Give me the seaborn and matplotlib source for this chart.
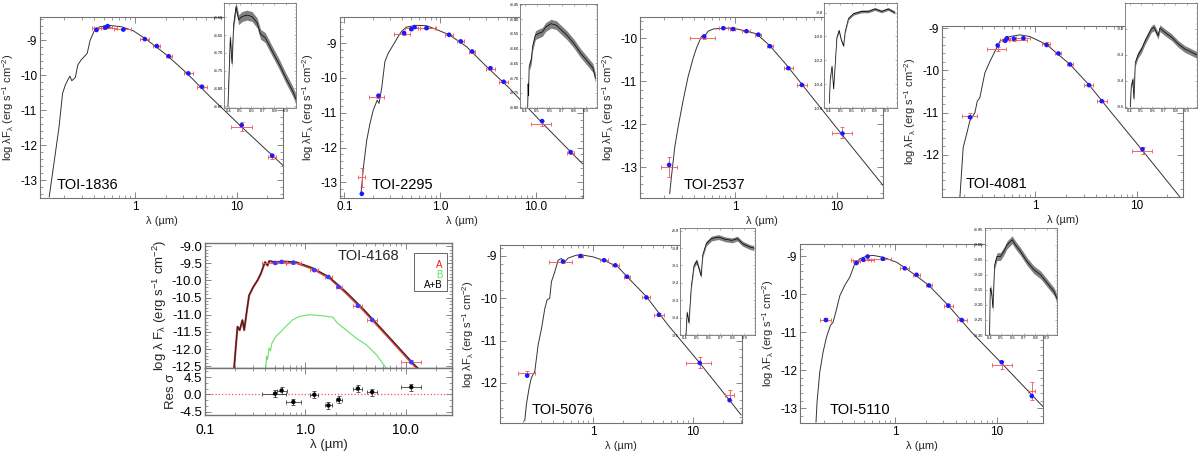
import numpy as np
import matplotlib
matplotlib.use("Agg")
import matplotlib.pyplot as plt
import seaborn as sns
from matplotlib.ticker import FixedLocator, FuncFormatter, NullFormatter, LogLocator, AutoMinorLocator
from matplotlib.patches import Rectangle

# ======================= DATA =======================
# ---- TOI-1836 ----
T1836_MOD_LAM = [0.144, 0.162, 0.18, 0.195, 0.207, 0.219, 0.23, 0.24, 0.26, 0.275, 0.296, 0.34, 0.364, 0.40, 0.45, 0.565, 0.74, 0.96, 1.3, 2.06, 3.25, 5.5, 11.0, 29.5]
T1836_MOD_F = [-13.48, -12.43, -11.48, -10.52, -10.29, -10.14, -10.03, -10.16, -10.07, -9.71, -9.57, -9.38, -9.0, -8.73, -8.62, -8.58, -8.62, -8.73, -8.98, -9.43, -9.95, -10.62, -11.46, -12.62]
T1836_LAM = [0.42, 0.51, 0.54, 0.77, 1.25, 1.64, 2.15, 3.35, 4.55, 11.2, 22.3]
T1836_OBS = [-8.66, -8.65, -8.63, -8.68, -8.97, -9.17, -9.46, -9.95, -10.35, -11.47, -12.33]
T1836_FIT = [-8.71, -8.64, -8.60, -8.70, -8.97, -9.17, -9.46, -9.95, -10.33, -11.43, -12.30]
T1836_XLO = [0.38, 0.40, 0.49, 0.63, 1.13, 1.52, 2.0, 3.05, 4.1, 8.8, 20.5]
T1836_XHI = [0.46, 0.66, 0.59, 0.92, 1.37, 1.76, 2.3, 3.7, 5.1, 14.2, 24.3]
T1836_YERR = [0.03, 0.02, 0.02, 0.02, 0.02, 0.02, 0.02, 0.02, 0.03, 0.12, 0.06]
T1836_INS_LAM = [0.394, 0.415, 0.43, 0.444, 0.465, 0.488, 0.518, 0.56, 0.606, 0.65, 0.68, 0.72, 0.78, 0.84, 0.90, 0.96, 0.99]
T1836_INS_F = [-8.853, -8.657, -8.73, -8.62, -8.57, -8.607, -8.598, -8.594, -8.598, -8.616, -8.648, -8.657, -8.694, -8.73, -8.77, -8.807, -8.83]
T1836_INS_SPREAD = 0.014

# ---- TOI-2295 ----
T2295_MOD_LAM = [0.149, 0.158, 0.171, 0.185, 0.2, 0.22, 0.23, 0.245, 0.265, 0.287, 0.324, 0.365, 0.396, 0.446, 0.566, 0.72, 0.916, 1.24, 1.88, 3.04, 5.3, 11.4, 30.7]
T2295_MOD_F = [-13.34, -12.57, -11.8, -11.31, -10.93, -10.64, -10.73, -10.3, -9.53, -9.29, -9.05, -8.81, -8.66, -8.54, -8.49, -8.50, -8.61, -8.76, -9.1, -9.67, -10.30, -11.27, -12.47]
T2295_LAM = [0.152, 0.227, 0.42, 0.50, 0.54, 0.72, 1.24, 1.64, 2.16, 3.35, 4.6, 11.6, 23.0]
T2295_OBS = [-12.86, -10.54, -8.74, -8.58, -8.56, -8.57, -8.76, -8.95, -9.25, -9.73, -10.13, -11.31, -12.15]
T2295_FIT = [-13.33, -10.51, -8.71, -8.60, -8.54, -8.57, -8.76, -8.95, -9.24, -9.72, -10.11, -11.24, -12.13]
T2295_XLO = [0.14, 0.18, 0.33, 0.43, 0.50, 0.62, 1.12, 1.5, 2.0, 3.0, 4.1, 8.9, 21.0]
T2295_XHI = [0.165, 0.26, 0.49, 0.88, 0.58, 0.9, 1.36, 1.78, 2.32, 3.7, 5.1, 14.5, 25.0]
T2295_YERR = [0.27, 0.04, 0.04, 0.03, 0.02, 0.02, 0.02, 0.02, 0.02, 0.03, 0.03, 0.08, 0.05]
T2295_INS_LAM = [0.423, 0.426, 0.429, 0.435, 0.451, 0.463, 0.486, 0.514, 0.543, 0.571, 0.614, 0.657, 0.70, 0.743, 0.80, 0.857, 0.914, 0.957, 0.977]
T2295_INS_F = [-8.80, -8.72, -8.76, -8.66, -8.64, -8.593, -8.554, -8.548, -8.543, -8.526, -8.515, -8.52, -8.537, -8.554, -8.582, -8.616, -8.644, -8.666, -8.70]
T2295_INS_SPREAD = 0.015

# ---- TOI-2537 ----
T2537_MOD_LAM = [0.229, 0.238, 0.257, 0.277, 0.311, 0.347, 0.389, 0.42, 0.47, 0.507, 0.546, 0.612, 0.768, 0.963, 1.3, 1.63, 1.9, 2.21, 3.2, 5.5, 11.4, 28.6]
T2537_MOD_F = [-13.62, -13.23, -12.53, -12.07, -11.44, -10.9, -10.47, -10.23, -9.96, -9.95, -9.84, -9.79, -9.77, -9.77, -9.84, -9.9, -10.04, -10.18, -10.62, -11.32, -12.26, -13.43]
T2537_LAM = [0.226, 0.50, 0.77, 0.96, 1.30, 1.70, 2.21, 3.35, 4.55, 11.4]
T2537_OBS = [-13.0, -10.0, -9.77, -9.79, -9.83, -9.92, -10.18, -10.69, -11.09, -12.20]
T2537_FIT = [-12.95, -9.96, -9.77, -9.79, -9.84, -9.92, -10.19, -10.70, -11.09, -12.22]
T2537_XLO = [0.19, 0.36, 0.70, 0.90, 1.17, 1.58, 2.05, 3.05, 4.1, 8.9]
T2537_XHI = [0.27, 0.64, 0.85, 1.0, 1.42, 1.82, 2.37, 3.7, 5.1, 14.0]
T2537_YERR = [0.23, 0.03, 0.02, 0.02, 0.02, 0.02, 0.02, 0.02, 0.03, 0.13]
T2537_INS_LAM = [0.406, 0.414, 0.429, 0.443, 0.457, 0.471, 0.49, 0.509, 0.529, 0.543, 0.571, 0.614, 0.686, 0.743, 0.80, 0.857, 0.914, 0.971]
T2537_INS_F = [-10.56, -10.36, -10.25, -10.44, -10.23, -10.01, -9.95, -10.03, -10.08, -9.96, -9.85, -9.81, -9.79, -9.79, -9.77, -9.79, -9.77, -9.80]
T2537_INS_SPREAD = 0.012

# ---- TOI-4081 ----
T4081_MOD_LAM = [0.183, 0.197, 0.213, 0.229, 0.257, 0.271, 0.287, 0.322, 0.361, 0.404, 0.453, 0.567, 0.711, 0.893, 1.3, 2.21, 3.47, 5.46, 11.4, 26.6]
T4081_MOD_F = [-13.0, -11.83, -11.51, -11.2, -11.0, -10.73, -10.65, -10.06, -9.79, -9.55, -9.31, -9.20, -9.16, -9.20, -9.39, -9.86, -10.37, -10.96, -11.9, -13.0]
T4081_LAM = [0.23, 0.43, 0.51, 0.53, 0.62, 0.77, 1.30, 1.70, 2.21, 3.39, 4.53, 11.4]
T4081_OBS = [-11.07, -9.49, -9.29, -9.26, -9.28, -9.24, -9.37, -9.60, -9.86, -10.35, -10.73, -11.90]
T4081_FIT = [-11.11, -9.41, -9.30, -9.24, -9.25, -9.24, -9.40, -9.60, -9.86, -10.35, -10.73, -11.87]
T4081_XLO = [0.19, 0.34, 0.47, 0.50, 0.45, 0.65, 1.17, 1.58, 2.05, 3.05, 4.1, 8.9]
T4081_XHI = [0.27, 0.52, 0.55, 0.57, 0.83, 0.90, 1.42, 1.82, 2.37, 3.7, 5.1, 14.0]
T4081_YERR = [0.05, 0.05, 0.02, 0.02, 0.02, 0.02, 0.03, 0.02, 0.02, 0.03, 0.03, 0.09]
T4081_INS_LAM = [0.406, 0.415, 0.429, 0.438, 0.45, 0.474, 0.503, 0.532, 0.56, 0.591, 0.615, 0.635, 0.65, 0.665, 0.709, 0.768, 0.826, 0.885, 0.944, 0.988]
T4081_INS_F = [-9.50, -9.42, -9.395, -9.47, -9.33, -9.30, -9.28, -9.25, -9.226, -9.20, -9.194, -9.213, -9.226, -9.197, -9.213, -9.232, -9.258, -9.278, -9.29, -9.30]
T4081_INS_SPREAD = 0.013

# ---- TOI-4168 (A, B, A+B, residuals) ----
T4168_AB_LAM = [0.195, 0.203, 0.211, 0.222, 0.236, 0.246, 0.259, 0.275, 0.302, 0.334, 0.36, 0.38, 0.397, 0.42, 0.436, 0.51, 0.617, 0.81, 1.18, 1.74, 2.55, 3.74, 5.5, 8.07, 11.8, 13.6]
T4168_AB_F = [-12.55, -11.92, -11.34, -11.44, -11.15, -11.44, -10.96, -10.43, -10.19, -9.99, -9.80, -9.61, -9.46, -9.56, -9.43, -9.46, -9.44, -9.46, -9.63, -9.90, -10.33, -10.81, -11.34, -11.87, -12.40, -12.58]
T4168_A_F = [-12.56, -11.93, -11.35, -11.45, -11.16, -11.45, -10.97, -10.44, -10.20, -10.00, -9.81, -9.62, -9.47, -9.57, -9.44, -9.48, -9.46, -9.49, -9.66, -9.93, -10.37, -10.85, -11.38, -11.91, -12.44, -12.62]
T4168_B_LAM = [0.404, 0.41, 0.42, 0.436, 0.45, 0.464, 0.51, 0.571, 0.64, 0.747, 0.87, 1.1, 1.49, 1.88, 2.1, 2.55, 3.21, 4.04, 5.1, 6.4]
T4168_B_F = [-12.55, -12.21, -12.3, -11.97, -12.05, -11.83, -11.63, -11.49, -11.34, -11.15, -11.05, -11.0, -11.03, -11.07, -11.25, -11.44, -11.68, -11.87, -12.16, -12.55]
T4168_LAM = [0.50, 0.58, 0.76, 1.23, 1.70, 2.15, 3.34, 4.64, 11.4]
T4168_OBS = [-9.49, -9.46, -9.48, -9.71, -9.90, -10.19, -10.73, -11.14, -12.37]
T4168_FIT = [-9.49, -9.46, -9.48, -9.70, -9.90, -10.19, -10.74, -11.15, -12.38]
T4168_XLO = [0.37, 0.52, 0.64, 1.12, 1.56, 2.0, 3.0, 4.15, 9.05]
T4168_XHI = [0.64, 0.65, 0.90, 1.35, 1.83, 2.3, 3.7, 5.15, 14.3]
T4168_YERR = [0.03, 0.03, 0.03, 0.02, 0.02, 0.02, 0.03, 0.03, 0.04]
T4168_RES = [0.2, 1.0, -2.0, -0.1, -2.9, -1.4, 1.5, 0.6, 1.9]
T4168_RES_ERR = [0.9, 0.9, 0.9, 0.9, 0.9, 0.9, 0.9, 0.9, 0.9]

# ---- TOI-5076 ----
T5076_MOD_LAM = [0.207, 0.215, 0.229, 0.241, 0.261, 0.282, 0.305, 0.329, 0.346, 0.368, 0.383, 0.413, 0.447, 0.482, 0.52, 0.562, 0.681, 0.794, 1.0, 1.36, 1.78, 2.19, 3.42, 5.62, 11.7, 30.4]
T5076_MOD_F = [-12.9, -12.51, -12.12, -11.88, -11.73, -11.1, -10.71, -10.24, -10.04, -10.0, -9.61, -9.38, -9.1, -9.06, -9.14, -9.05, -8.98, -8.98, -9.02, -9.13, -9.26, -9.49, -9.96, -10.63, -11.53, -12.76]
T5076_LAM = [0.219, 0.50, 0.75, 1.29, 1.67, 2.19, 3.42, 4.57, 11.7, 23.3]
T5076_OBS = [-11.76, -9.14, -9.0, -9.10, -9.22, -9.49, -9.98, -10.39, -11.53, -12.29]
T5076_FIT = [-11.83, -9.13, -9.0, -9.10, -9.22, -9.49, -9.98, -10.39, -11.53, -12.41]
T5076_XLO = [0.178, 0.36, 0.70, 1.17, 1.55, 2.03, 3.1, 4.1, 8.6, 21.0]
T5076_XHI = [0.262, 0.62, 0.80, 1.41, 1.80, 2.35, 3.75, 5.1, 15.1, 25.5]
T5076_YERR = [0.03, 0.02, 0.02, 0.02, 0.02, 0.02, 0.02, 0.03, 0.13, 0.12]
T5076_INS_LAM = [0.41, 0.42, 0.435, 0.455, 0.478, 0.50, 0.52, 0.537, 0.551, 0.58, 0.624, 0.682, 0.74, 0.798, 0.842, 0.886, 0.944, 0.98]
T5076_INS_F = [-9.5, -9.37, -9.43, -9.22, -9.10, -9.075, -9.12, -9.16, -9.04, -8.975, -8.946, -8.937, -8.95, -8.956, -8.946, -8.975, -8.994, -9.0]
T5076_INS_SPREAD = 0.014

# ---- TOI-5110 ----
T5110_MOD_LAM = [0.168, 0.172, 0.183, 0.197, 0.213, 0.233, 0.247, 0.263, 0.288, 0.322, 0.361, 0.404, 0.453, 0.526, 0.612, 0.768, 1.04, 1.52, 2.16, 3.35, 5.66, 11.2, 28.5]
T5110_MOD_F = [-13.37, -12.84, -12.05, -11.53, -11.13, -10.82, -10.74, -10.47, -10.04, -9.77, -9.55, -9.2, -9.07, -9.0, -8.98, -9.03, -9.16, -9.46, -9.77, -10.30, -11.0, -11.82, -12.96]
T5110_LAM = [0.21, 0.42, 0.49, 0.54, 0.76, 1.25, 1.63, 2.16, 3.35, 4.53, 11.2, 22.1]
T5110_OBS = [-10.67, -9.14, -9.11, -9.09, -9.08, -9.32, -9.49, -9.77, -10.30, -10.68, -11.86, -12.54]
T5110_FIT = [-10.68, -9.18, -9.09, -9.01, -9.07, -9.32, -9.49, -9.77, -10.30, -10.68, -11.79, -12.68]
T5110_XLO = [0.184, 0.39, 0.37, 0.50, 0.55, 1.13, 1.5, 2.0, 3.05, 4.1, 8.9, 20.5]
T5110_XHI = [0.236, 0.45, 0.63, 0.58, 0.92, 1.37, 1.76, 2.32, 3.7, 5.1, 14.2, 23.8]
T5110_YERR = [0.03, 0.02, 0.02, 0.02, 0.02, 0.02, 0.02, 0.02, 0.03, 0.03, 0.10, 0.24]
T5110_INS_LAM = [0.40, 0.406, 0.418, 0.429, 0.444, 0.465, 0.494, 0.524, 0.553, 0.582, 0.597, 0.626, 0.67, 0.729, 0.788, 0.847, 0.906, 0.965, 0.988]
T5110_INS_F = [-9.30, -9.144, -9.16, -9.21, -9.067, -9.039, -9.039, -9.022, -9.0, -8.989, -8.983, -9.0, -9.022, -9.056, -9.083, -9.10, -9.128, -9.156, -9.178]
T5110_INS_SPREAD = 0.013

# ======================= STYLE =======================
sns.set_theme(style="ticks")
plt.rcParams["font.family"] = ["Liberation Sans", "DejaVu Sans"]
plt.rcParams["mathtext.fontset"] = "custom"
plt.rcParams["mathtext.rm"] = "Liberation Sans"
plt.rcParams["mathtext.it"] = "Liberation Sans:italic"
plt.rcParams["mathtext.bf"] = "Liberation Sans:bold"

W, H = 1200, 455
fig = plt.figure(figsize=(12, 4.55), dpi=100)
fig.patch.set_facecolor("white")

FRAME = "0.45"
YLAB = r"log λF$_{\mathregular{λ}}$ (erg s$^{\mathregular{-1}}$ cm$^{\mathregular{-2}}$)"
XLAB = "λ (µm)"


def px_axes(x0, x1, y0, y1, **kw):
    return fig.add_axes([x0 / W, 1 - y1 / H, (x1 - x0) / W, (y1 - y0) / H], **kw)


def frame(ax, fs, lw=0.8):
    for s in ax.spines.values():
        s.set_color(FRAME)
        s.set_linewidth(lw)
    ax.tick_params(which="both", direction="in", top=True, right=True,
                   color=FRAME, labelcolor="black", labelsize=fs, pad=2)
    ax.tick_params(which="major", length=4, width=0.6)
    ax.tick_params(which="minor", length=2, width=0.5)


def main_panel(box, xlim, ylim, yticks, xticks, xtick_lbls, mlam, mf, lam, obs, fit, xlo, xhi, yerr,
               name, name_pos):
    ax = px_axes(*box)
    ax.set_xscale("log")
    sns.lineplot(x=mlam, y=mf, ax=ax, color="0.2", lw=0.7, estimator=None, sort=False, zorder=2)
    lam_a = np.array(lam)
    xerr = [lam_a - np.array(xlo), np.array(xhi) - lam_a]
    ax.errorbar(lam, obs, xerr=xerr, yerr=yerr, fmt="none", ecolor="#f05a5a", elinewidth=0.7,
                capsize=1.5, capthick=0.7, alpha=0.9, zorder=3)
    sns.scatterplot(x=lam, y=fit, ax=ax, color="#1a1aff", s=11, edgecolor="none", zorder=4)
    ax.set_xlim(*xlim)
    ax.set_ylim(*ylim)
    frame(ax, 8.5)
    ax.xaxis.set_major_locator(FixedLocator(xticks))
    ax.xaxis.set_major_formatter(FuncFormatter(lambda v, p: xtick_lbls[xticks.index(v)] if v in xticks else ""))
    ax.xaxis.set_minor_locator(LogLocator(base=10, subs=np.arange(2, 10)))
    ax.xaxis.set_minor_formatter(NullFormatter())
    ax.yaxis.set_major_locator(FixedLocator(yticks))
    ax.yaxis.set_major_formatter(FuncFormatter(lambda v, p: "%d" % round(v)))
    ax.yaxis.set_minor_locator(AutoMinorLocator(5))
    ax.set_xlabel(XLAB, fontsize=8, labelpad=2)
    ax.set_ylabel(YLAB, fontsize=8, labelpad=3)
    ax.text(name_pos[0], name_pos[1], name, transform=ax.transAxes, fontsize=10.5,
            ha="left", va="bottom", color="black")
    return ax


def inset(box, lam, f, spread, ylim, yticks, fmt):
    ax = px_axes(*box)
    ax.set_facecolor("white")
    f_a = np.array(f)
    ax.fill_between(lam, f_a - spread, f_a + spread, color="0.5", lw=0, zorder=1)
    sns.lineplot(x=lam, y=f, ax=ax, color="black", lw=0.5, estimator=None, sort=False, zorder=2)
    ax.set_xlim(0.36, 0.99)
    ax.set_ylim(*ylim)
    for s in ax.spines.values():
        s.set_color(FRAME)
        s.set_linewidth(0.6)
    ax.tick_params(which="both", direction="in", top=True, right=True, color=FRAME,
                   labelcolor="black", labelsize=3, pad=1)
    ax.tick_params(which="major", length=1.5, width=0.4)
    ax.tick_params(which="minor", length=0.8, width=0.3)
    ax.xaxis.set_major_locator(FixedLocator([0.4, 0.5, 0.6, 0.7, 0.8, 0.9]))
    ax.xaxis.set_major_formatter(FuncFormatter(lambda v, p: "%.1f" % v))
    ax.xaxis.set_minor_locator(AutoMinorLocator(5))
    ax.yaxis.set_major_locator(FixedLocator(yticks))
    ax.yaxis.set_major_formatter(FuncFormatter(lambda v, p: fmt % v))
    ax.yaxis.set_minor_locator(AutoMinorLocator(5))
    ax.set_xlabel("")
    ax.set_ylabel("")
    return ax


# ---------------- top row ----------------
main_panel((40, 283, 17, 198), (0.117, 28.5), (-13.51, -8.34), [-9, -10, -11, -12, -13],
           [1, 10], ["1", "10"], T1836_MOD_LAM, T1836_MOD_F, T1836_LAM, T1836_OBS, T1836_FIT,
           T1836_XLO, T1836_XHI, T1836_YERR, "TOI-1836", (0.07, 0.035))
inset((224, 296, 3, 108), T1836_INS_LAM, T1836_INS_F, T1836_INS_SPREAD, (-8.855, -8.56),
      [-8.85, -8.80, -8.75, -8.70, -8.65, -8.60], "%.2f")

main_panel((340, 583, 17, 198), (0.09, 31), (-13.45, -8.25), [-9, -10, -11, -12, -13],
           [0.1, 1, 10], ["0.1", "1.0", "10.0"], T2295_MOD_LAM, T2295_MOD_F, T2295_LAM, T2295_OBS,
           T2295_FIT, T2295_XLO, T2295_XHI, T2295_YERR, "TOI-2295", (0.13, 0.035))
inset((520, 597, 4, 108), T2295_INS_LAM, T2295_INS_F, T2295_INS_SPREAD, (-8.802, -8.448),
      [-8.80, -8.75, -8.70, -8.65, -8.60, -8.55, -8.50, -8.45], "%.2f")

main_panel((640, 883, 17, 198), (0.117, 28.5), (-13.72, -9.51), [-10, -11, -12, -13],
           [1, 10], ["1", "10"], T2537_MOD_LAM, T2537_MOD_F, T2537_LAM, T2537_OBS, T2537_FIT,
           T2537_XLO, T2537_XHI, T2537_YERR, "TOI-2537", (0.18, 0.035))
inset((824, 897, 3, 108), T2537_INS_LAM, T2537_INS_F, T2537_INS_SPREAD, (-10.6, -9.72),
      [-10.6, -10.4, -10.2, -10.0, -9.8], "%.1f")

main_panel((942, 1183, 26, 197), (0.122, 28.5), (-13.0, -8.95), [-9, -10, -11, -12],
           [1, 10], ["1", "10"], T4081_MOD_LAM, T4081_MOD_F, T4081_LAM, T4081_OBS, T4081_FIT,
           T4081_XLO, T4081_XHI, T4081_YERR, "TOI-4081", (0.10, 0.035))
inset((1125, 1197, 3, 108), T4081_INS_LAM, T4081_INS_F, T4081_INS_SPREAD, (-9.505, -9.1),
      [-9.5, -9.4, -9.3, -9.2], "%.1f")

# ---------------- bottom row: TOI-4168 ----------------
ax5 = px_axes(205, 452, 243, 368)
ax5.set_xscale("log")
sns.lineplot(x=T4168_AB_LAM, y=T4168_A_F, ax=ax5, color="#e23a3a", lw=1.5, estimator=None, sort=False, zorder=2)
sns.lineplot(x=T4168_AB_LAM, y=T4168_AB_F, ax=ax5, color="0.15", lw=0.8, estimator=None, sort=False, zorder=3)
sns.lineplot(x=T4168_B_LAM, y=T4168_B_F, ax=ax5, color="#66e266", lw=0.8, estimator=None, sort=False, zorder=2)
lam5 = np.array(T4168_LAM)
xerr5 = [lam5 - np.array(T4168_XLO), np.array(T4168_XHI) - lam5]
ax5.errorbar(T4168_LAM, T4168_OBS, xerr=xerr5, yerr=T4168_YERR, fmt="none", ecolor="#f05a5a",
             elinewidth=0.7, capsize=1.5, capthick=0.7, alpha=0.9, zorder=4)
sns.scatterplot(x=T4168_LAM, y=T4168_FIT, ax=ax5, color="#3a3aff", s=11, edgecolor="none", zorder=5)
ax5.set_xlim(0.1, 29)
ax5.set_ylim(-12.55, -8.91)
frame(ax5, 9.5, lw=1.0)
ax5.xaxis.set_major_locator(FixedLocator([0.1, 1, 10]))
ax5.xaxis.set_major_formatter(NullFormatter())
ax5.xaxis.set_minor_locator(LogLocator(base=10, subs=np.arange(2, 10)))
ax5.xaxis.set_minor_formatter(NullFormatter())
ax5.yaxis.set_major_locator(FixedLocator([-9.0, -9.5, -10.0, -10.5, -11.0, -11.5, -12.0, -12.5]))
ax5.yaxis.set_major_formatter(FuncFormatter(lambda v, p: "%.1f" % v))
ax5.yaxis.set_minor_locator(AutoMinorLocator(5))
ax5.set_xlabel("")
ax5.set_ylabel(r"log λ F$_{\mathregular{λ}}$ (erg s$^{\mathregular{-1}}$ cm$^{\mathregular{-2}}$)", fontsize=9.5, labelpad=2)
ax5.text(0.66, 0.90, "TOI-4168", transform=ax5.transAxes, fontsize=10.5, ha="center", va="center")
ax5.add_patch(Rectangle((0.846, 0.62), 0.134, 0.30, transform=ax5.transAxes, fill=True,
                        facecolor="white", edgecolor="0.4", lw=0.7, zorder=6))
ax5.text(0.962, 0.825, "A", transform=ax5.transAxes, color="#e02020", fontsize=7, ha="right", va="center", zorder=7)
ax5.text(0.962, 0.745, "B", transform=ax5.transAxes, color="#66e266", fontsize=7, ha="right", va="center", zorder=7)
ax5.text(0.962, 0.665, "A+B", transform=ax5.transAxes, color="black", fontsize=7, ha="right", va="center", zorder=7)

ax5r = px_axes(205, 452, 368, 415)
ax5r.set_xscale("log")
ax5r.axhline(0, color="#f05a5a", ls=":", lw=0.9)
ax5r.errorbar(T4168_LAM, T4168_RES, xerr=xerr5, yerr=T4168_RES_ERR, fmt="none", ecolor="0.25",
              elinewidth=0.6, capsize=1.5, capthick=0.6, zorder=3)
sns.scatterplot(x=T4168_LAM, y=T4168_RES, ax=ax5r, color="black", s=10, edgecolor="none", zorder=4)
ax5r.set_xlim(0.1, 29)
ax5r.set_ylim(-5.4, 6.9)
frame(ax5r, 9.5, lw=1.0)
ax5r.xaxis.set_major_locator(FixedLocator([0.1, 1, 10]))
ax5r.xaxis.set_major_formatter(FuncFormatter(lambda v, p: {0.1: "0.1", 1: "1.0", 10: "10.0"}.get(v, "")))
ax5r.xaxis.set_minor_locator(LogLocator(base=10, subs=np.arange(2, 10)))
ax5r.xaxis.set_minor_formatter(NullFormatter())
ax5r.tick_params(axis="x", labelsize=10, pad=6)
ax5r.yaxis.set_major_locator(FixedLocator([4.5, 0.0, -4.5]))
ax5r.yaxis.set_major_formatter(FuncFormatter(lambda v, p: "%.1f" % v))
ax5r.yaxis.set_minor_locator(AutoMinorLocator(3))
ax5r.set_xlabel(XLAB, fontsize=9.5, labelpad=1)
ax5r.set_ylabel("Res σ", fontsize=9.5, labelpad=2)

# ---------------- bottom row: TOI-5076, TOI-5110 ----------------
main_panel((500, 742, 245, 423), (0.117, 31), (-12.95, -8.74), [-9, -10, -11, -12],
           [1, 10], ["1", "10"], T5076_MOD_LAM, T5076_MOD_F, T5076_LAM, T5076_OBS, T5076_FIT,
           T5076_XLO, T5076_XHI, T5076_YERR, "TOI-5076", (0.13, 0.035))
inset((680, 755, 228, 335), T5076_INS_LAM, T5076_INS_F, T5076_INS_SPREAD, (-9.5, -8.885),
      [-9.5, -9.4, -9.3, -9.2, -9.1, -9.0, -8.9], "%.1f")

main_panel((800, 1043, 244, 423), (0.117, 28.5), (-13.39, -8.68), [-9, -10, -11, -12, -13],
           [1, 10], ["1", "10"], T5110_MOD_LAM, T5110_MOD_F, T5110_LAM, T5110_OBS, T5110_FIT,
           T5110_XLO, T5110_XHI, T5110_YERR, "TOI-5110", (0.12, 0.035))
inset((985, 1057, 228, 335), T5110_INS_LAM, T5110_INS_F, T5110_INS_SPREAD, (-9.30, -8.944),
      [-9.30, -9.25, -9.20, -9.15, -9.10, -9.05, -9.00, -8.95], "%.2f")

fig.savefig("out.png", dpi=100, facecolor="white")
